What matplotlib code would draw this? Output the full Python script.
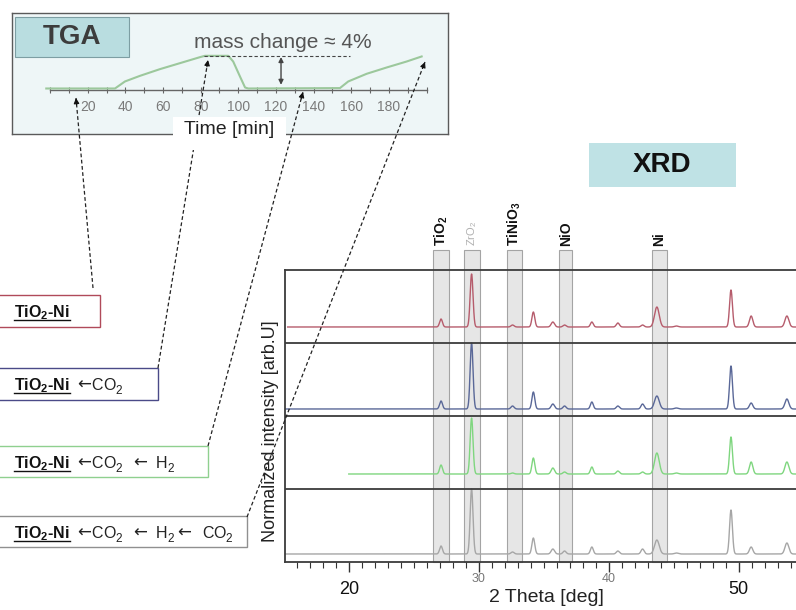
import numpy as np
import matplotlib
matplotlib.use('Agg')
import matplotlib.pyplot as plt
from matplotlib.patches import Rectangle
from matplotlib.ticker import MultipleLocator
from matplotlib.transforms import blended_transform_factory

plt.rcParams['font.family'] = ['Liberation Sans', 'DejaVu Sans']
plt.rcParams['mathtext.default'] = 'regular'

# TGA curve (time in min, mass change in %)
tga_time = [-2, 34.5, 39.8, 47.8, 58.4, 69.0, 79.7, 82.3, 94.7, 97.3, 100.9, 103.6,
            105.3, 154, 158.4, 168.2, 178.8, 189.4, 197.4]
tga_mass = [0, 0, 0.86, 1.55, 2.37, 3.1, 3.84, 4.0, 4.0, 3.3, 1.47, 0.12,
            0, 0.05, 0.86, 1.8, 2.57, 3.3, 3.92]
tga_labels = [20, 40, 60, 80, 100, 120, 140, 160, 180]
tga_minor = list(range(0, 201, 10))

# XRD peaks (2 theta, deg) and widths
peak_pos = [27.1, 29.45, 32.6, 34.2, 35.7, 36.6, 38.7, 40.7, 42.6, 43.7, 45.2, 49.4, 50.95, 53.7]
peak_wid = [0.11, 0.11, 0.12, 0.11, 0.13, 0.12, 0.11, 0.12, 0.12, 0.18, 0.15, 0.11, 0.13, 0.15]

# intensities per sample, top panel first
samples = ['TiO2-Ni', 'TiO2-Ni <- CO2', 'TiO2-Ni <- CO2 <- H2', 'TiO2-Ni <- CO2 <- H2 <- CO2']
colors = ['#b65c6c', '#5a6898', '#7fd67f', '#a6a6a6']
heights = [
    [8, 53, 2, 15, 5, 2, 5, 4, 2, 20, 1, 37, 11, 11],
    [8, 66, 3, 17, 5, 3, 7, 3, 5, 13, 1, 43, 6, 10],
    [9, 56, 1, 16, 6, 2, 7, 3, 2, 21, 1, 37, 12, 12],
    [8, 65, 2, 16, 5, 3, 7, 3, 5, 14, 1, 44, 7, 11],
]
baselines = [16, 7, 15, 8]
start = [15.3, 15.1, 20.0, 15.1]
panel_scale = 73.0

# reference phases
phase_names = ['TiO$_2$', 'ZrO$_2$', 'TiNiO$_3$', 'NiO', 'Ni']
phase_pos = [27.1, 29.5, 32.75, 36.7, 43.9]
phase_wid = [1.2, 1.2, 1.1, 1.0, 1.2]

# treatment steps after the base sample
steps = [[], ['CO2'], ['CO2', 'H2'], ['CO2', 'H2', 'CO2']]

W, H = 796, 610
fig = plt.figure(figsize=(W / 100, H / 100), dpi=100)

# ---------- XRD ----------
ax = fig.add_axes([285 / W, 1 - 562 / H, 511 / W, 292 / H])
ax.set_xlim(15.1, 54.4)
ax.set_ylim(0, 4)

ax.bar(phase_pos, 4.27, width=phase_wid, bottom=0, color='#e6e6e6',
       edgecolor='#a4a4a4', linewidth=0.8, zorder=0, clip_on=False)
for name, x in zip(phase_names, phase_pos):
    if name.startswith('Zr'):
        ax.text(x, 4.33, name, rotation=90, ha='center', va='bottom', fontsize=8,
                color='#b0b0b0', clip_on=False)
    else:
        ax.text(x, 4.33, name, rotation=90, ha='center', va='bottom', fontsize=10,
                fontweight='bold', color='#111111', clip_on=False)

tt = np.linspace(15.1, 54.4, 4000)
for i in range(4):
    off = 3 - i
    y = np.full_like(tt, baselines[i] / panel_scale)
    for p, w, h in zip(peak_pos, peak_wid, heights[i]):
        y += h / panel_scale * np.exp(-0.5 * ((tt - p) / w) ** 2)
    m = tt >= start[i]
    ax.plot(tt[m], y[m] + off, color=colors[i], lw=1, zorder=2)

for yy in [1, 2, 3]:
    ax.axhline(yy, color='#3c3c3c', lw=1.3, zorder=3)
for s in ['top', 'left', 'bottom']:
    ax.spines[s].set_color('#3c3c3c')
    ax.spines[s].set_linewidth(1.3)
ax.spines['right'].set_visible(False)

ax.set_yticks([])
ax.set_xticks([20, 30, 40, 50])
ax.set_xticklabels(['20', '', '', '50'], fontsize=13, color='#111111')
ax.xaxis.set_minor_locator(MultipleLocator(1))
ax.tick_params(axis='x', which='major', length=7, width=1, color='#333333', pad=7)
ax.tick_params(axis='x', which='minor', length=4, width=0.8, color='#333333')
bt = blended_transform_factory(ax.transData, ax.transAxes)
for v in [30, 40]:
    ax.text(v, -0.058, str(v), transform=bt, ha='center', va='center',
            fontsize=9, color='#777777')
ax.text(0.511, -0.12, '2 Theta [deg]', transform=ax.transAxes, ha='center',
        va='center', fontsize=14, color='#222222')
ax.text(-0.029, 0.447, 'Normalized intensity [arb.U]', transform=ax.transAxes,
        rotation=90, ha='center', va='center', fontsize=13, color='#222222')

# ---------- TGA ----------
ax1 = fig.add_axes([12 / W, 1 - 134 / H, 436 / W, 121 / H])
ax1.set_xlim(-20.2, 211.4)
ax1.set_ylim(-5.57, 9.24)
ax1.set_facecolor('#eef6f7')
ax1.set_xticks([])
ax1.set_yticks([])
for s in ax1.spines.values():
    s.set_color('#5a5a5a')
    s.set_linewidth(1)
ax1.plot([0, 200], [-0.15, -0.15], color='#666666', lw=1)
ax1.plot(tga_minor, [-0.15] * len(tga_minor), ls='none', marker='|', ms=4.5,
         color='#666666', mew=0.8)
for t in tga_labels:
    ax1.text(t, -2.3, str(t), ha='center', va='center', fontsize=10, color='#7a7a7a')
ax1.plot(tga_time, tga_mass, color='#9cc89c', lw=1.5)
ax1.plot([82, 159.3], [4.0, 4.0], ls=(0, (3, 2)), color='#444444', lw=0.8)
ax1.annotate('', xy=(122.7, 3.85), xytext=(122.7, 0.45),
             arrowprops=dict(arrowstyle='<|-|>', color='#444444', lw=1,
                             mutation_scale=7, shrinkA=0, shrinkB=0))
ax1.text(123.7, 5.57, 'mass change ≈ 4%', ha='center', va='center',
         fontsize=15, color='#555555')

# ---------- overlay ----------
ax0 = fig.add_axes([0, 0, 1, 1], zorder=10)
ax0.set_xlim(0, W)
ax0.set_ylim(H, 0)
ax0.axis('off')
ax0.patch.set_alpha(0)

ax0.add_patch(Rectangle((15, 17), 114, 40, fc='#b9dde0', ec='#7d9ea3', lw=0.8))
ax0.text(72, 37, 'TGA', ha='center', va='center', fontsize=20,
         fontweight='bold', color='#3c3c3c')
ax0.add_patch(Rectangle((589, 143), 147, 44, fc='#bfe2e5', ec='none'))
ax0.text(662, 165, 'XRD', ha='center', va='center', fontsize=20,
         fontweight='bold', color='#111111')

links = [((93, 288), (76, 98)), ((158, 368), (208, 60)),
         ((208, 446), (303, 92)), ((247, 517), (425, 62))]
for (x0, y0), (x1, y1) in links:
    ax0.plot([x0, x1], [y0, y1], ls=(0, (3, 2)), color='#222222', lw=0.9, zorder=3)
    d = np.hypot(x1 - x0, y1 - y0)
    ax0.annotate('', xy=(x1, y1), xytext=(x1 - 7 * (x1 - x0) / d, y1 - 7 * (y1 - y0) / d),
                 arrowprops=dict(arrowstyle='-|>', color='#111111', lw=0.8,
                                 mutation_scale=8, shrinkA=0, shrinkB=0), zorder=3)

ax0.add_patch(Rectangle((173, 117), 113, 33, fc='white', ec='none', zorder=4))
ax0.text(229, 129, 'Time [min]', ha='center', va='center', fontsize=14,
         color='#222222', zorder=5)

box_top = [295, 368, 446, 516]
box_bot = [327, 400, 477, 547]
box_right = [100, 158, 208, 247]
box_base = [317, 390, 468, 538]
box_edge = ['#b04a5a', '#4a4a88', '#8fd08f', '#909090']

renderer = fig.canvas.get_renderer()
inv = ax0.transData.inverted()


def put(x, y, s, **kw):
    # draw text at x (left) and return left/right edge in overlay coords
    t = ax0.text(x, y, s, va='baseline', **kw)
    bb = t.get_window_extent(renderer)
    return inv.transform((bb.x0, bb.y0))[0], inv.transform((bb.x1, bb.y0))[0]


def formula(x, y, f):
    # element letters + subscript digits
    for ch in f:
        if ch.isdigit():
            _, x = put(x, y + 3.5, ch, fontsize=8.5, color='#222222')
        else:
            _, x = put(x, y, ch, fontsize=11.5, color='#222222')
    return x


arrow_gap = [[7, 1], [11, 9], [3, 11]]
for i in range(4):
    ax0.add_patch(Rectangle((-5, box_top[i]), box_right[i] + 5, box_bot[i] - box_top[i],
                            fill=False, ec=box_edge[i], lw=1))
    xa, xb = put(14, box_base[i], 'TiO$_2$-Ni', fontsize=11.5, fontweight='bold',
                 color='#111111')
    ax0.plot([xa, xb], [box_base[i] + 2.5, box_base[i] + 2.5], color='#111111', lw=1)
    x = xb
    for k, gas in enumerate(steps[i]):
        g0, g1 = arrow_gap[k]
        _, x = put(x + g0, box_base[i] - 0.5, '←', fontsize=12,
                   family='DejaVu Sans', color='#222222')
        x = formula(x + g1, box_base[i], gas)

fig.savefig('out.png', dpi=100)
